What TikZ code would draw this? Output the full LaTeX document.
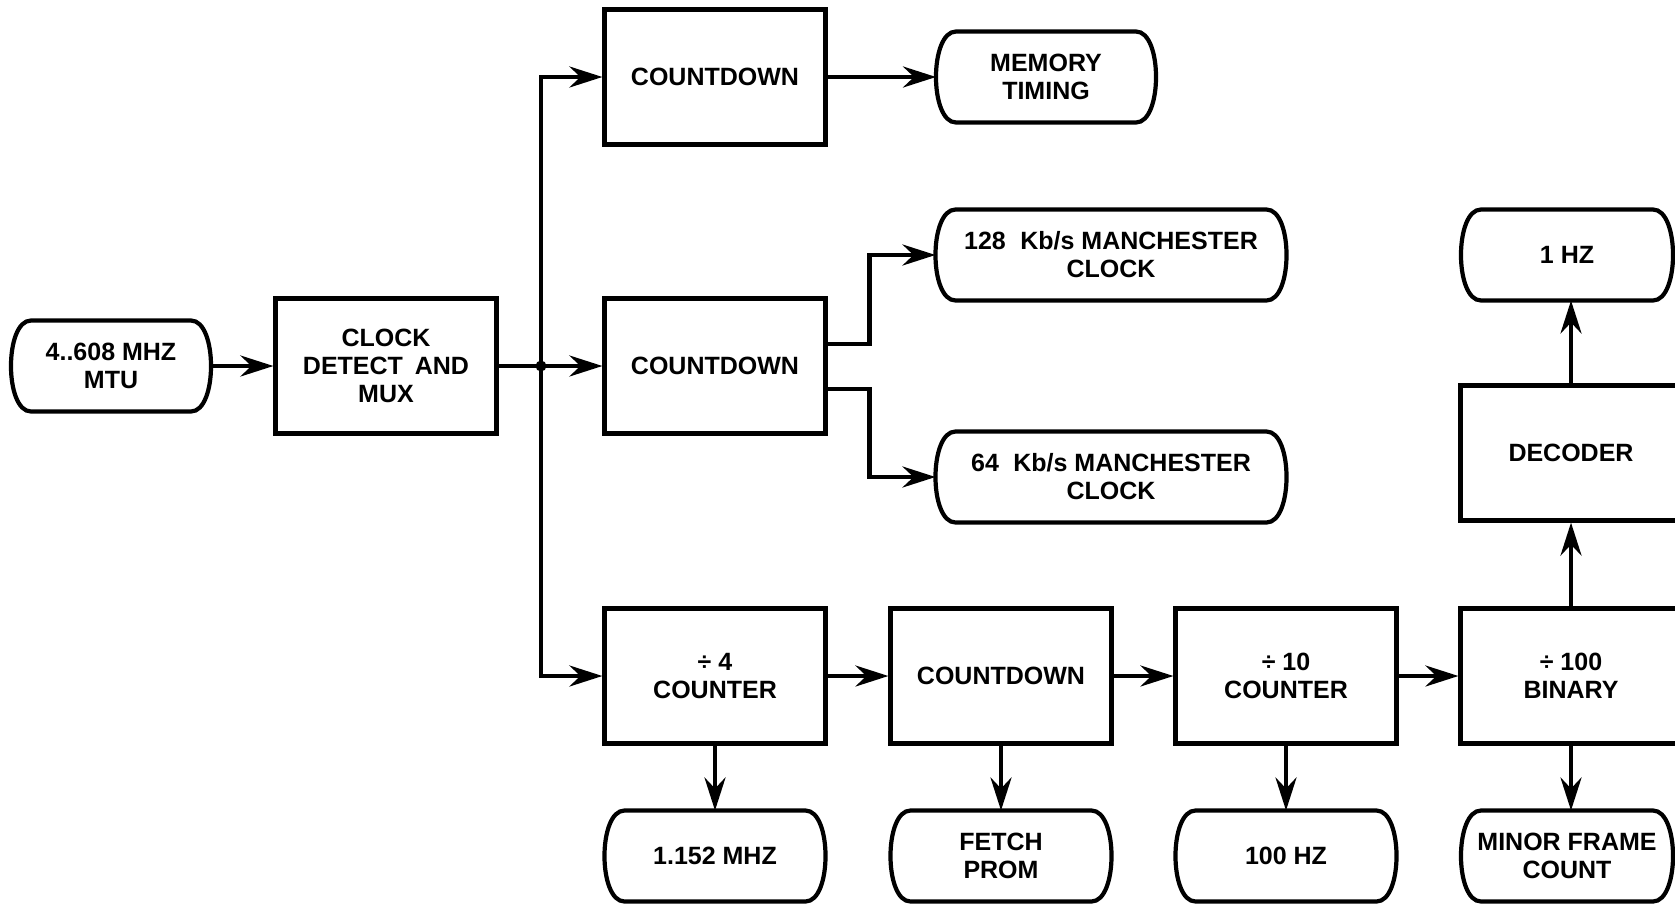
\documentclass[tikz,border=0pt]{standalone}
\usepackage{fontspec}
\setmainfont{Liberation Sans}
\usetikzlibrary{arrows.meta,calc}
\newcommand\lblfont{\bfseries\fontsize{25}{28}\selectfont}
\newcommand\termshape[1]{%
  \draw[line width=4.2pt]
    ([xshift=20pt]#1.north west) -- ([xshift=-20pt]#1.north east)
    .. controls ([xshift=6.7pt]#1.north east) and ([xshift=6.7pt]#1.south east) .. ([xshift=-20pt]#1.south east)
    -- ([xshift=20pt]#1.south west)
    .. controls ([xshift=-6.7pt]#1.south west) and ([xshift=-6.7pt]#1.north west) .. cycle;}
\begin{document}
\begin{tikzpicture}[x=1pt,y=-1pt,
  blk/.style={draw, line width=4.2pt, minimum width=221pt, minimum height=135pt,
    align=center, inner sep=0pt, font=\lblfont},
  term/.style={minimum height=91pt, align=center, inner sep=0pt, outer sep=0pt, font=\lblfont},
  arr/.style={line width=4.4pt, -{Stealth[length=33pt,width=21pt,inset=11pt]}},
  ln/.style={line width=4.4pt}]
\clip (0,0) rectangle (1675,903);
\fill[white] (0,0) rectangle (1675,903);

\node[term, minimum width=200pt] (in) at (111,366) {4..608 MHZ\\MTU};
\node[blk] (clk) at (386,366) {CLOCK\\DETECT\hspace{0.2em} AND\\MUX};
\coordinate (J) at (541,366);

\node[blk] (cd1) at (715,77) {COUNTDOWN};
\node[term, minimum width=220pt] (mem) at (1046,77) {MEMORY\\TIMING};

\node[blk] (cd2) at (715,366) {COUNTDOWN};
\node[term, minimum width=351pt] (m128) at (1111,255) {128\hspace{0.3em} Kb/s MANCHESTER\\CLOCK};
\node[term, minimum width=351pt] (m64) at (1111,477) {64\hspace{0.3em} Kb/s MANCHESTER\\CLOCK};

\node[blk] (div4) at (715,676) {÷ 4\\COUNTER};
\node[blk] (cd3) at (1001,676) {COUNTDOWN};
\node[blk] (div10) at (1286,676) {÷ 10\\COUNTER};
\node[blk] (div100) at (1571,676) {÷ 100\\BINARY};
\node[blk] (dec) at (1571,453) {DECODER};
\node[term, minimum width=212pt] (hz1) at (1567,255) {1 HZ};

\node[term, minimum width=221pt] (o1) at (715,856) {1.152 MHZ};
\node[term, minimum width=221pt] (o2) at (1001,856) {FETCH\\PROM};
\node[term, minimum width=221pt] (o3) at (1286,856) {100 HZ};
\node[term, minimum width=212pt] (o4) at (1567,856) {MINOR FRAME\\COUNT};

\foreach \t in {in,mem,m128,m64,hz1,o1,o2,o3,o4} {\termshape{\t}}

% connectors
\draw[arr] (in) -- (clk);
\draw[ln] (clk) -- (J);
\fill (J) circle (5.5pt);
\draw[arr] (J) -- (cd2);
\draw[arr] (J) |- (cd1.west);
\draw[arr] (J) |- (div4.west);
\draw[arr] (cd1) -- (mem);
\draw[arr] ([yshift=22pt]cd2.east) -- ++(42pt,0) |- (m128.west);
\draw[arr] ([yshift=-23pt]cd2.east) -- ++(42pt,0) |- (m64.west);
\draw[arr] (div4) -- (cd3);
\draw[arr] (cd3) -- (div10);
\draw[arr] (div10) -- (div100);
\draw[arr] (div100) -- (dec);
\draw[arr] (dec.north) -- (dec.north |- hz1.south);
\draw[arr] (div4) -- (o1);
\draw[arr] (cd3) -- (o2);
\draw[arr] (div10) -- (o3);
\draw[arr] (div100.south) -- (div100.south |- o4.north);
\end{tikzpicture}
\end{document}
